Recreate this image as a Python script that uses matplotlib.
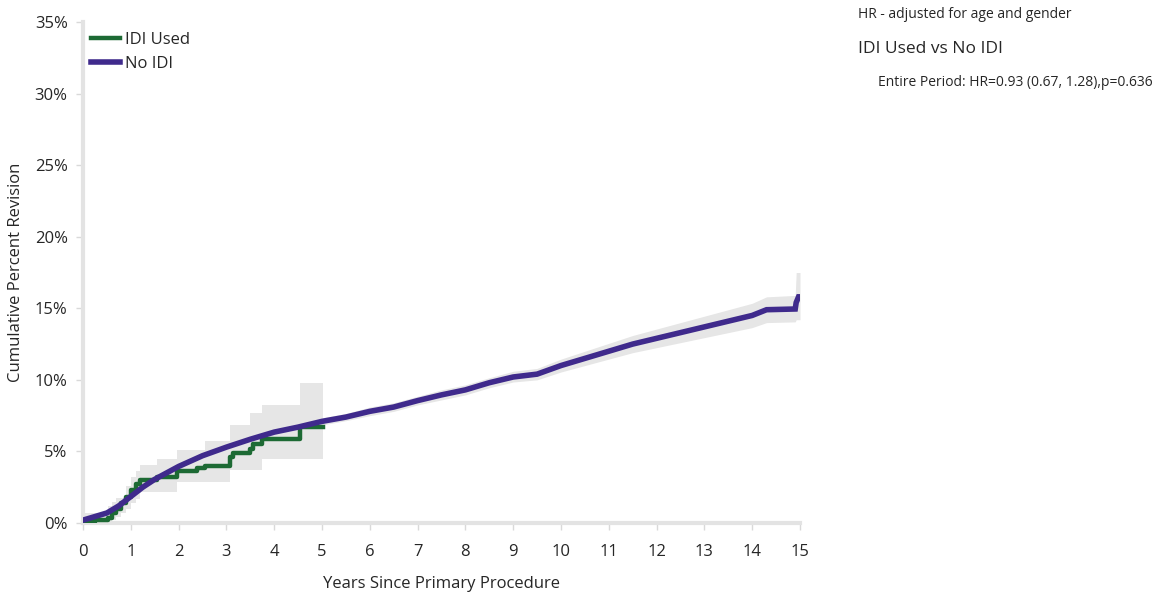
import matplotlib
matplotlib.use("Agg")
import matplotlib.pyplot as plt
from matplotlib.ticker import FuncFormatter

plt.rcParams["font.family"] = ["Open Sans", "DejaVu Sans"]

# Cumulative percent revision, no IDI (years, %)
no_idi_t = [0, 0.25, 0.5, 0.75, 1.0, 1.25, 1.5, 1.75, 2.0, 2.5, 3.0, 3.5, 4.0, 4.5,
            5.0, 5.5, 6.0, 6.5, 7.0, 7.5, 8.0, 8.5, 9.0, 9.5, 10.0, 10.5, 11.0,
            11.5, 12.0, 12.5, 13.0, 13.5, 14.0, 14.3, 14.9, 14.92, 14.97, 15.0]
no_idi = [0.2, 0.45, 0.7, 1.2, 1.85, 2.5, 3.05, 3.5, 3.95, 4.7, 5.3, 5.85, 6.35, 6.7,
          7.1, 7.4, 7.8, 8.1, 8.55, 8.95, 9.3, 9.8, 10.2, 10.4, 11.0, 11.5, 12.0,
          12.5, 12.9, 13.3, 13.7, 14.1, 14.5, 14.9, 14.95, 15.4, 15.8, 15.8]
no_idi_lo = [0.05, 0.3, 0.5, 1.0, 1.65, 2.3, 2.85, 3.3, 3.75, 4.5, 5.05, 5.6, 6.1, 6.45,
             6.85, 7.15, 7.5, 7.8, 8.25, 8.6, 8.95, 9.45, 9.85, 10.0, 10.55, 11.0, 11.45,
             11.9, 12.25, 12.6, 12.95, 13.3, 13.65, 14.0, 14.05, 14.2, 14.2, 14.2]
no_idi_hi = [0.35, 0.6, 0.9, 1.4, 2.05, 2.7, 3.25, 3.7, 4.15, 4.9, 5.55, 6.1, 6.6, 6.95,
             7.35, 7.65, 8.1, 8.4, 8.85, 9.3, 9.65, 10.15, 10.6, 10.8, 11.45, 12.0, 12.55,
             13.1, 13.55, 14.0, 14.45, 14.9, 15.35, 15.8, 15.9, 17.5, 17.5, 17.5]

# Cumulative percent revision, IDI used (years, %)
idi_t = [0, 0.25, 0.52, 0.6, 0.7, 0.8, 0.9, 1.0, 1.1, 1.2, 1.55, 1.97, 2.38, 2.55,
         3.08, 3.14, 3.49, 3.56, 3.74, 4.54, 5.02]
idi = [0.1, 0.2, 0.35, 0.7, 1.0, 1.4, 1.8, 2.3, 2.7, 3.0, 3.2, 3.6, 3.85, 4.0,
       4.6, 4.9, 5.2, 5.5, 5.9, 6.7, 6.7]
idi_hi = [0.7, 0.7, 1.2, 1.5, 1.75, 1.75, 2.6, 3.2, 3.6, 4.05, 4.5, 5.1, 5.1, 5.7,
          6.85, 6.85, 7.7, 7.7, 8.25, 9.8, 9.8]
idi_lo = [0.0, 0.0, 0.1, 0.2, 0.4, 0.7, 1.0, 1.4, 1.7, 2.2, 2.2, 2.85, 2.85, 2.85,
          3.7, 3.7, 3.7, 3.7, 4.5, 4.5, 4.5]

x_ticks = list(range(0, 16))
y_ticks = [0, 5, 10, 15, 20, 25, 30, 35]

green = "#1d6a34"
purple = "#3f2a8c"
band = "#e6e6e6"
text_col = "#262626"

fig = plt.figure(figsize=(11.73, 5.94), dpi=100)
ax = fig.add_axes([83 / 1173, 71 / 594, 717 / 1173, 501 / 594])

ax.fill_between(idi_t, idi_lo, idi_hi, step="post", color=band, lw=0, zorder=1)
ax.fill_between(no_idi_t, no_idi_lo, no_idi_hi, color=band, lw=0, zorder=1)
ax.step(idi_t, idi, where="post", color=green, lw=3.2, label="IDI Used", zorder=3)
ax.plot(no_idi_t, no_idi, color=purple, lw=4, label="No IDI", zorder=4,
        solid_joinstyle="miter")

ax.set_xlim(0, 15)
ax.set_ylim(0, 35)
ax.set_xticks(x_ticks)
ax.set_yticks(y_ticks)
ax.yaxis.set_major_formatter(FuncFormatter(lambda v, p: f"{v:.0f}%"))

for side in ("top", "right"):
    ax.spines[side].set_visible(False)
for side in ("left", "bottom"):
    ax.spines[side].set_color("#e3e3e3")
    ax.spines[side].set_linewidth(3)
ax.tick_params(axis="both", colors="#d9d9d9", labelcolor=text_col, labelsize=12,
               length=5, width=1)
ax.tick_params(axis="x", pad=10)
ax.tick_params(axis="y", pad=6)

ax.set_xlabel("Years Since Primary Procedure", fontsize=12, color=text_col, labelpad=12)
ax.set_ylabel("Cumulative Percent Revision", fontsize=12, color=text_col, labelpad=8)

leg = ax.legend(loc="upper left", frameon=False,
                fontsize=12, handlelength=1.75, handletextpad=0.3, labelspacing=0.45,
                borderaxespad=0.0, borderpad=0.0)
leg.set_bbox_to_anchor((8 / 717, 1 - 10 / 501), transform=ax.transAxes)
for t in leg.get_texts():
    t.set_color(text_col)

fig.text(858 / 1173, 1 - 15 / 594, "HR - adjusted for age and gender", fontsize=10,
         color=text_col, va="center", ha="left")
fig.text(858 / 1173, 1 - 49 / 594, "IDI Used vs No IDI", fontsize=12.5,
         color=text_col, va="center", ha="left")
fig.text(878 / 1173, 1 - 82 / 594, "Entire Period: HR=0.93 (0.67, 1.28),p=0.636",
         fontsize=10, color=text_col, va="center", ha="left")

fig.savefig("out.png", dpi=100)
